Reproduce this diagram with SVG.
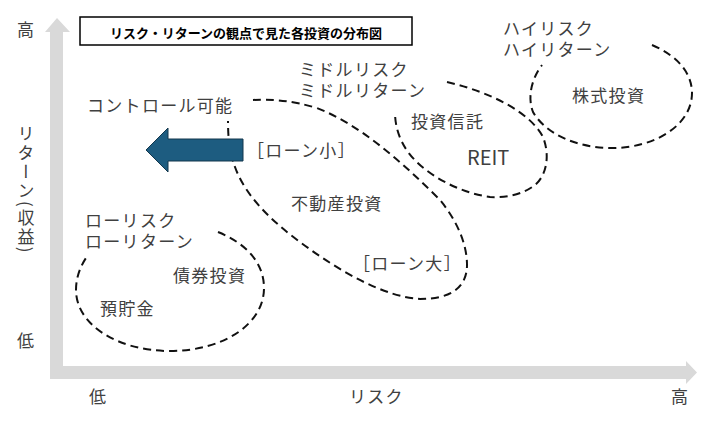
<svg xmlns="http://www.w3.org/2000/svg" width="720" height="425" viewBox="0 0 720 425">
<style>
.t{font-family:"Noto Sans CJK JP","Noto Sans",sans-serif;font-size:17px;letter-spacing:1.3px;fill:#404040}
.d{fill:none;stroke:#111;stroke-width:2;stroke-dasharray:8 5}
.ttl{font-family:"Noto Sans CJK JP","Noto Sans",sans-serif;font-size:13px;font-weight:bold;fill:#000}
</style>
<rect width="720" height="425" fill="#fff"/>
<g id="axes">
<path d="M50,32 L45,32 L57,18 L70,32 L63,32 L63,366 L686,366 L686,361 L697,372.5 L686,384 L686,379 L50,379 Z" fill="#d9d9d9"/>
<text class="t" x="17" y="36">高</text>
<text class="t" x="17" y="347">低</text>
<text class="t" x="89" y="403">低</text>
<text class="t" x="349" y="403">リスク</text>
<text class="t" x="671" y="403">高</text>
<text class="t" x="26" y="125" style="writing-mode:vertical-rl;letter-spacing:2px">リターン(収益)</text>
</g>
<g id="title">
<rect x="80" y="17" width="332" height="28" fill="#fff" stroke="#000" stroke-width="1.5"/>
<text class="ttl" x="246" y="38" text-anchor="middle">リスク・リターンの観点で見た各投資の分布図</text>
</g>
<g id="connectors">
<path id="low" class="d" d="M218,232 C245,243 264,262 264,288 C264,325 222,351 170,351 C118,351 76,325 76,290 C76,278 80,267 86,258"/>
<path id="realestate" class="d" d="M253,100 C270,99 290,100 317,108 C360,125 400,160 440,200 C458,222 467,245 467,265 C467,288 450,299 420,299 C385,297 340,272 300,242 C270,220 245,195 235,167 C230,155 228,140 228,121"/>
<path id="reit" class="d" d="M447,82 C490,92 530,112 543,137 C550,155 547,175 535,185 C522,195 505,198 490,197 C460,193 425,175 408,152 C398,138 395,124 395,112"/>
<path id="stock" class="d" d="M652,45 C680,57 692,75 692,93 C692,125 655,148 612,148 C575,148 545,133 533,112 C527,97 532,78 542,65"/>
</g>
<g id="arrow">
<path d="M243,139 L168,139 L168,128 L146,150 L168,172 L168,161 L243,161 Z" fill="#1d5c80" stroke="#12374d" stroke-width="1"/>
</g>
<g id="labels">
<text class="t" x="87" y="112">コントロール可能</text>
<text class="t" x="299" y="76">ミドルリスク<tspan x="299" dy="21">ミドルリターン</tspan></text>
<text class="t" x="503" y="35">ハイリスク<tspan x="503" dy="21">ハイリターン</tspan></text>
<text class="t" x="572" y="102">株式投資</text>
<text class="t" x="411" y="128">投資信託</text>
<text class="t" x="467" y="165" style="font-size:20px;letter-spacing:0">REIT</text>
<text class="t" x="247" y="156.5">［ローン小］</text>
<text class="t" x="291" y="209.5">不動産投資</text>
<text class="t" x="353" y="269.5">［ローン大］</text>
<text class="t" x="85" y="226.5">ローリスク<tspan x="85" dy="21">ローリターン</tspan></text>
<text class="t" x="173" y="281.5">債券投資</text>
<text class="t" x="100" y="315">預貯金</text>
</g>
</svg>
